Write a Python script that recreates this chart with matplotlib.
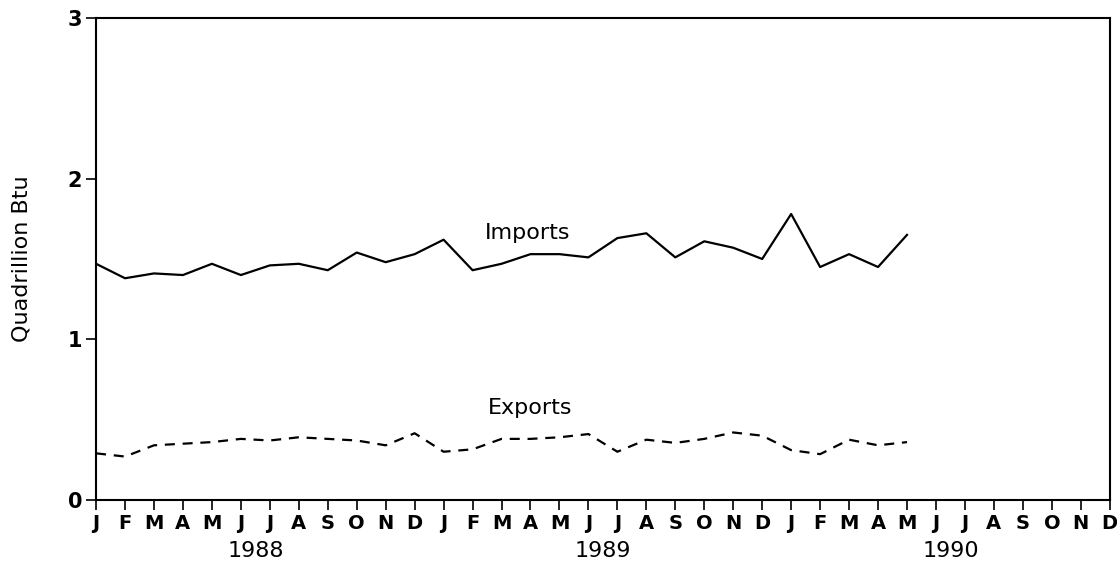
import numpy as np
import matplotlib
matplotlib.use("Agg")
import matplotlib.pyplot as plt

# ── data (quadrillion Btu, monthly Jan 1988 - May 1990) ──────────────────────
MONTHS = ["J", "F", "M", "A", "M", "J", "J", "A", "S", "O", "N", "D"]
YEARS  = ["1988", "1989", "1990"]

imports = [1.47, 1.38, 1.41, 1.40, 1.47, 1.40, 1.46, 1.47, 1.43, 1.54, 1.48, 1.53,
           1.62, 1.43, 1.47, 1.53, 1.53, 1.51, 1.63, 1.66, 1.51, 1.61, 1.57, 1.50,
           1.78, 1.45, 1.53, 1.45, 1.65]
exports = [0.29, 0.27, 0.34, 0.35, 0.36, 0.38, 0.37, 0.39, 0.38, 0.37, 0.34, 0.415,
           0.30, 0.315, 0.38, 0.38, 0.39, 0.41, 0.30, 0.375, 0.355, 0.38, 0.42, 0.40,
           0.31, 0.285, 0.375, 0.34, 0.36]

plt.rcParams["font.family"] = ["DejaVu Sans"]

fig = plt.figure(figsize=(11.17, 5.72), dpi=100)
fig.patch.set_facecolor("white")
ax = fig.add_axes([0.086, 0.126, 0.9075, 0.8425])

x = np.arange(len(imports))
ax.plot(x, imports, color="black", lw=1.6)
ax.plot(x, exports, color="black", lw=1.6, ls=(0, (4.5, 3.5)))

ax.text(14.9, 1.66, "Imports", ha="center", va="center", fontsize=16)
ax.text(15.0, 0.57, "Exports", ha="center", va="center", fontsize=16)

# ── axes styling ──────────────────────────────────────────────────────────────
ax.set_xlim(0, 35)
ax.set_ylim(0, 3)
ax.set_yticks([0, 1, 2, 3])
ax.set_yticklabels(["0", "1", "2", "3"], fontsize=15, fontweight="bold")
ax.set_xticks(np.arange(36))
ax.set_xticklabels(MONTHS * 3, fontsize=14, fontweight="bold")
ax.tick_params(axis="both", direction="out", length=7, width=1.2,
               top=False, right=False, pad=3)
ax.tick_params(axis="x", pad=3)
for sp in ax.spines.values():
    sp.set_linewidth(1.5)

for i, yr in enumerate(YEARS):
    ax.text(5.5 + 12 * i, -0.32, yr, ha="center", va="center", fontsize=16)

ax.set_ylabel("Quadrillion Btu", fontsize=16, labelpad=26)

fig.savefig("out.png", dpi=100)
plt.close(fig)
